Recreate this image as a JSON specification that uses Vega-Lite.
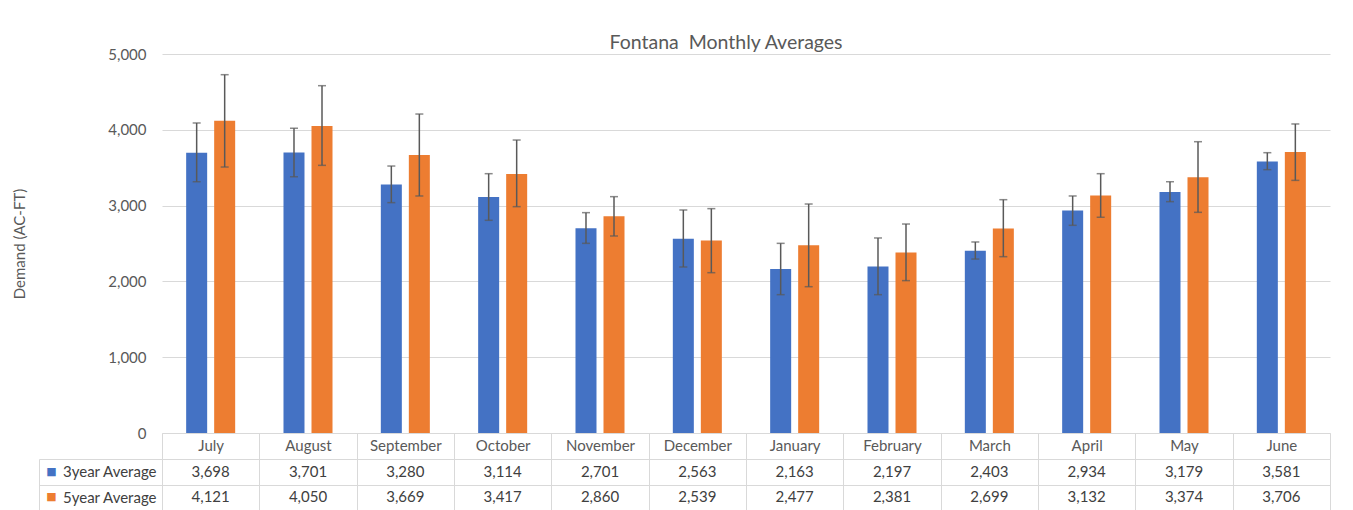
{
  "$schema": "https://vega.github.io/schema/vega-lite/v6.json",
  "autosize": {"type": "pad"},
  "padding": {"left": 12, "top": 32, "right": 5, "bottom": 0},
  "background": "white",
  "config": {
    "font": "Lato",
    "view": {"stroke": null},
    "axis": {"labelFont": "Lato", "titleFont": "Lato"}
  },
  "datasets": {
    "d": [
      {"month": "July", "series": "3year Average", "value": 3698, "lo": 3315, "hi": 4090},
      {"month": "July", "series": "5year Average", "value": 4121, "lo": 3509, "hi": 4727},
      {"month": "August", "series": "3year Average", "value": 3701, "lo": 3382, "hi": 4020},
      {"month": "August", "series": "5year Average", "value": 4050, "lo": 3531, "hi": 4582},
      {"month": "September", "series": "3year Average", "value": 3280, "lo": 3039, "hi": 3522},
      {"month": "September", "series": "5year Average", "value": 3669, "lo": 3127, "hi": 4208},
      {"month": "October", "series": "3year Average", "value": 3114, "lo": 2806, "hi": 3421},
      {"month": "October", "series": "5year Average", "value": 3417, "lo": 2986, "hi": 3865},
      {"month": "November", "series": "3year Average", "value": 2701, "lo": 2502, "hi": 2907},
      {"month": "November", "series": "5year Average", "value": 2860, "lo": 2599, "hi": 3118},
      {"month": "December", "series": "3year Average", "value": 2563, "lo": 2190, "hi": 2942},
      {"month": "December", "series": "5year Average", "value": 2539, "lo": 2115, "hi": 2960},
      {"month": "January", "series": "3year Average", "value": 2163, "lo": 1825, "hi": 2502},
      {"month": "January", "series": "5year Average", "value": 2477, "lo": 1930, "hi": 3021},
      {"month": "February", "series": "3year Average", "value": 2197, "lo": 1825, "hi": 2573},
      {"month": "February", "series": "5year Average", "value": 2381, "lo": 2010, "hi": 2757},
      {"month": "March", "series": "3year Average", "value": 2403, "lo": 2295, "hi": 2520},
      {"month": "March", "series": "5year Average", "value": 2699, "lo": 2326, "hi": 3078},
      {"month": "April", "series": "3year Average", "value": 2934, "lo": 2740, "hi": 3127},
      {"month": "April", "series": "5year Average", "value": 3132, "lo": 2846, "hi": 3421},
      {"month": "May", "series": "3year Average", "value": 3179, "lo": 3052, "hi": 3315},
      {"month": "May", "series": "5year Average", "value": 3374, "lo": 2911, "hi": 3843},
      {"month": "June", "series": "3year Average", "value": 3581, "lo": 3474, "hi": 3698},
      {"month": "June", "series": "5year Average", "value": 3706, "lo": 3333, "hi": 4077}
    ]
  },
  "bounds": "flush",
  "spacing": 26,
  "vconcat": [
    {
      "width": 1168,
      "height": 379,
      "title": {
        "text": "Fontana\u00a0 Monthly Averages",
        "fontSize": 19.5,
        "fontWeight": "normal",
        "color": "#595959",
        "font": "Lato",
        "anchor": "middle",
        "dx": -20,
        "offset": -6
      },
      "data": {"name": "d"},
      "encoding": {
        "x": {
          "field": "month",
          "type": "nominal",
          "sort": ["July", "August", "September", "October", "November", "December", "January", "February", "March", "April", "May", "June"],
          "scale": {"paddingInner": 0, "paddingOuter": 0},
          "axis": {
            "title": null,
            "labelAngle": 0,
            "labelFontSize": 15,
            "labelColor": "#595959",
            "domainColor": "#d9d9d9",
            "tickColor": "#d9d9d9",
            "tickBand": "extent",
            "tickSize": 26,
            "labelPadding": -21
          }
        },
        "xOffset": {
          "field": "series",
          "type": "nominal",
          "scale": {"paddingInner": 0.25, "paddingOuter": 0.8625}
        }
      },
      "layer": [
        {
          "mark": {"type": "bar"},
          "encoding": {
            "y": {
              "field": "value",
              "type": "quantitative",
              "scale": {"domain": [0, 5000]},
              "axis": {
                "title": "Demand (AC-FT)",
                "titleFontSize": 15,
                "titleFontWeight": "normal",
                "titleColor": "#595959",
                "titlePadding": 80,
                "values": [0, 1000, 2000, 3000, 4000, 5000],
                "labelExpr": "format(datum.value, ',')",
                "labelFontSize": 15,
                "labelColor": "#595959",
                "labelPadding": 16,
                "ticks": false,
                "domain": false,
                "grid": true,
                "gridColor": "#d9d9d9"
              }
            },
            "color": {
              "field": "series",
              "type": "nominal",
              "scale": {"domain": ["3year Average", "5year Average"], "range": ["#4472c4", "#ed7d31"]},
              "legend": null
            }
          }
        },
        {
          "mark": {"type": "rule", "color": "#595959", "strokeWidth": 1.5},
          "encoding": {
            "y": {"field": "lo", "type": "quantitative"},
            "y2": {"field": "hi"}
          }
        },
        {
          "mark": {"type": "tick", "color": "#595959", "thickness": 1.5, "size": 8},
          "encoding": {"y": {"field": "lo", "type": "quantitative"}}
        },
        {
          "mark": {"type": "tick", "color": "#595959", "thickness": 1.5, "size": 8},
          "encoding": {"y": {"field": "hi", "type": "quantitative"}}
        }
      ]
    },
    {
      "width": 1168,
      "height": 51,
      "data": {"name": "d"},
      "resolve": {"axis": {"y": "independent"}},
      "layer": [
        {
          "mark": {"type": "text", "fontSize": 15, "color": "#404040", "font": "Lato"},
          "encoding": {
            "x": {
              "field": "month",
              "type": "nominal",
              "sort": ["July", "August", "September", "October", "November", "December", "January", "February", "March", "April", "May", "June"],
              "scale": {"paddingInner": 0, "paddingOuter": 0},
              "axis": {
                "title": null,
                "labels": false,
                "ticks": false,
                "domain": false,
                "grid": true,
                "tickBand": "extent",
                "gridColor": "#d9d9d9"
              }
            },
            "y": {
              "field": "series",
              "type": "nominal",
              "scale": {"domain": ["3year Average", "5year Average"], "paddingInner": 0, "paddingOuter": 0},
              "axis": {
                "title": null,
                "grid": true,
                "gridColor": "#d9d9d9",
                "tickBand": "extent",
                "tickSize": 123,
                "tickColor": "#d9d9d9",
                "domain": true,
                "domainColor": "#d9d9d9",
                "labelFontSize": 15,
                "labelColor": "#404040",
                "labelPadding": -117
              }
            },
            "text": {"field": "value", "type": "quantitative", "format": ","}
          }
        },
        {
          "mark": {"type": "text", "text": ""},
          "encoding": {
            "x": {"field": "month", "type": "nominal", "sort": ["July", "August", "September", "October", "November", "December", "January", "February", "March", "April", "May", "June"]},
            "y": {
              "field": "series",
              "type": "nominal",
              "axis": {
                "orient": "left",
                "offset": 123,
                "title": null,
                "grid": false,
                "ticks": false,
                "domain": true,
                "domainColor": "#d9d9d9",
                "labelExpr": "'■'",
                "labelFont": "DejaVu Sans",
                "labelFontSize": 11,
                "labelAlign": "center",
                "labelPadding": -12,
                "labelColor": {"condition": {"test": "datum.value === '3year Average'", "value": "#4472c4"}, "value": "#ed7d31"}
              }
            }
          }
        }
      ]
    }
  ]
}
